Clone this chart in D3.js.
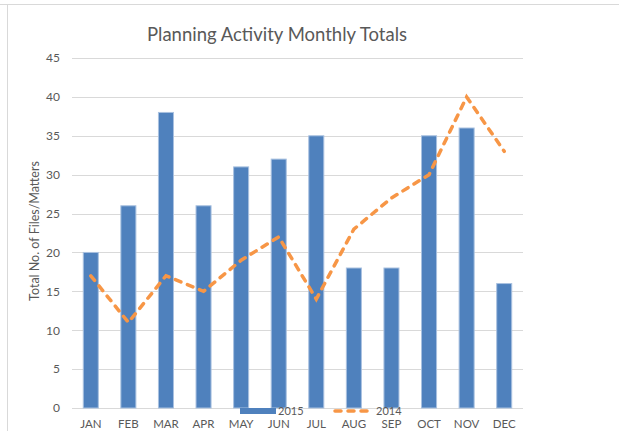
<!DOCTYPE html>
<html>
<head>
<meta charset="utf-8">
<script src="https://cdn.jsdelivr.net/npm/d3@7"></script>
<style>
	body { margin: 0; background: #fff; }
	svg text { font-family: Lato, "Liberation Sans", sans-serif; fill: #595959; }
</style>
</head>
<body>
<div id="chart"></div>
<script>
// <!-- ================================= -->
// <!-- DATA -->
// <!-- ================================= -->
var months = ['JAN', 'FEB', 'MAR', 'APR', 'MAY', 'JUN', 'JUL', 'AUG', 'SEP', 'OCT', 'NOV', 'DEC'];
var totals2015 = [20, 26, 38, 26, 31, 32, 35, 18, 18, 35, 36, 16];
var totals2014 = [17, 11, 17, 15, 19, 22, 14, 23, 27, 30, 40, 33];
var yTicks = [0, 5, 10, 15, 20, 25, 30, 35, 40, 45];

// chart dimensions
var width = 619;
var height = 431;
var margin = { top: 58, right: 96, bottom: 23, left: 72 };

var svg = d3.select('#chart')
	.append('svg')
	.attr('width', width)
	.attr('height', height);

// frame edges of the original sheet object
svg.append('line').attr('x1', 0).attr('x2', width).attr('y1', 4.5).attr('y2', 4.5)
	.attr('stroke', '#d9d9d9');
svg.append('line').attr('x1', 7.5).attr('x2', 7.5).attr('y1', 4.5).attr('y2', height)
	.attr('stroke', '#d9d9d9');

var x = d3.scaleBand()
	.domain(months)
	.range([margin.left, width - margin.right])
	.paddingInner(0.6)
	.paddingOuter(0.3);

var y = d3.scaleLinear()
	.domain([0, 45])
	.range([height - margin.bottom, margin.top]);

// gridlines
svg.append('g')
	.selectAll('line')
	.data(yTicks)
	.enter()
	.append('line')
	.attr('x1', margin.left)
	.attr('x2', width - margin.right)
	.attr('y1', function (d) { return Math.round(y(d)) + 0.5; })
	.attr('y2', function (d) { return Math.round(y(d)) + 0.5; })
	.attr('stroke', '#d9d9d9')
	.attr('stroke-width', 1);

// y axis labels
var yAxis = svg.append('g')
	.attr('transform', 'translate(' + (margin.left - 12) + ',0)')
	.call(d3.axisLeft(y).tickValues(yTicks).tickSize(0).tickPadding(0));
yAxis.select('.domain').remove();
yAxis.selectAll('text')
	.style('font-size', '12px')
	.attr('fill', '#595959');

// bars 2015
svg.append('g')
	.selectAll('rect')
	.data(totals2015)
	.enter()
	.append('rect')
	.attr('x', function (d, i) { return x(months[i]); })
	.attr('width', x.bandwidth())
	.attr('y', function (d) { return y(d); })
	.attr('height', function (d) { return y(0) - y(d); })
	.attr('fill', '#4f81bd')
	.attr('stroke', '#a9c1e0')
	.attr('stroke-width', 1);

// line 2014
var line = d3.line()
	.x(function (d, i) { return x(months[i]) + x.bandwidth() / 2; })
	.y(function (d) { return y(d); });

svg.append('path')
	.datum(totals2014)
	.attr('d', line)
	.attr('fill', 'none')
	.attr('stroke', '#f79646')
	.attr('stroke-width', 3.5)
	.attr('stroke-dasharray', '6,7')
	.attr('stroke-linecap', 'round');

// x axis
var xAxis = svg.append('g')
	.attr('transform', 'translate(0,' + (Math.round(y(0)) + 0.5) + ')')
	.call(d3.axisBottom(x).tickSize(0).tickPadding(11));
xAxis.select('.domain').remove();
xAxis.selectAll('text')
	.style('font-size', '11.5px')
	.attr('fill', '#595959');

// title
svg.append('text')
	.attr('x', 277)
	.attr('y', 41)
	.attr('text-anchor', 'middle')
	.style('font-size', '18.5px')
	.attr('fill', '#404040')
	.text('Planning Activity Monthly Totals');

// y axis title
svg.append('text')
	.attr('transform', 'translate(39,231) rotate(-90)')
	.attr('text-anchor', 'middle')
	.style('font-size', '12.5px')
	.attr('fill', '#404040')
	.text('Total No. of Files/Matters');

// legend
var legend = svg.append('g').attr('transform', 'translate(0,' + 411 + ')');
legend.append('rect')
	.attr('x', 240).attr('y', -3).attr('width', 36).attr('height', 6)
	.attr('fill', '#4f81bd');
legend.append('text')
	.attr('x', 278).attr('y', 4)
	.style('font-size', '11px')
	.text('2015');
legend.append('line')
	.attr('x1', 335).attr('x2', 368).attr('y1', 0).attr('y2', 0)
	.attr('stroke', '#f79646')
	.attr('stroke-width', 3.5)
	.attr('stroke-dasharray', '6,7')
	.attr('stroke-linecap', 'round');
legend.append('text')
	.attr('x', 376).attr('y', 4)
	.style('font-size', '11px')
	.text('2014');
</script>
</body>
</html>
